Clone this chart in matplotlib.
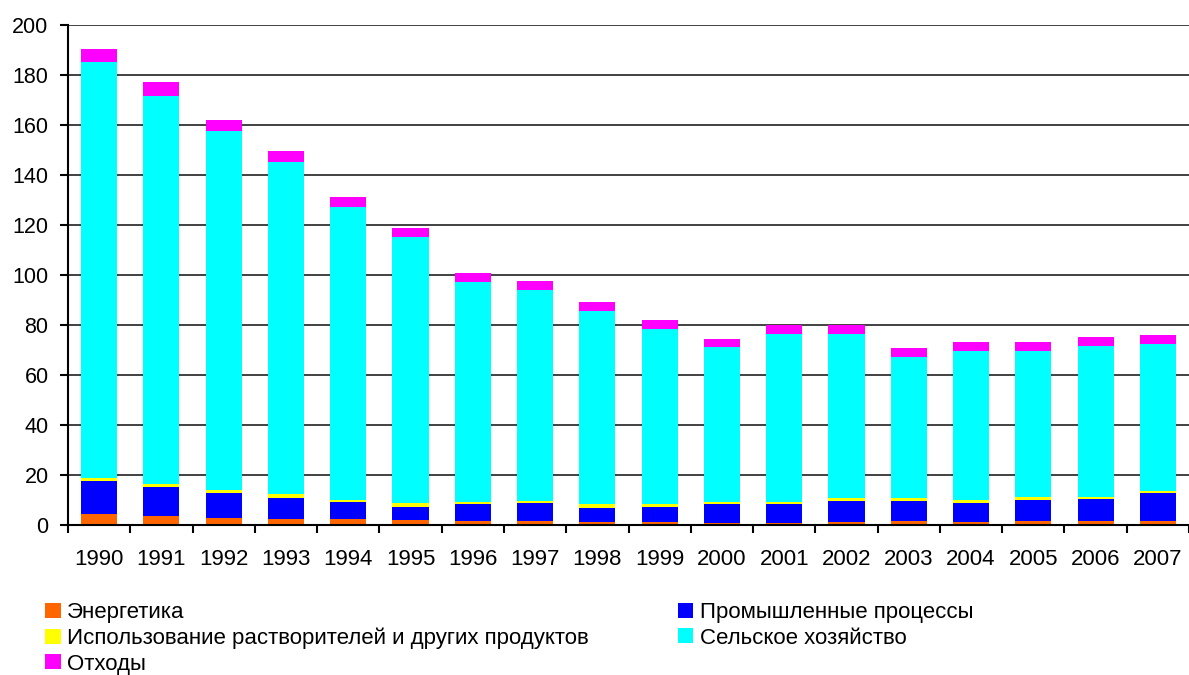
import matplotlib
matplotlib.use("Agg")
import matplotlib.pyplot as plt
import numpy as np

plt.rcParams["font.family"] = ["Liberation Sans", "DejaVu Sans"]

years = [str(y) for y in range(1990, 2008)]

energy = [4.4, 3.6, 2.8, 2.4, 2.4, 2.0, 1.6, 1.6, 1.2, 1.3, 0.9, 0.9, 1.3, 1.6, 1.3, 1.6, 1.6, 1.6]
industry = [13.2, 11.6, 10.0, 8.4, 6.8, 5.2, 6.8, 7.2, 5.6, 5.9, 7.5, 7.5, 8.3, 8.0, 7.5, 8.4, 8.8, 11.2]
solvents = [1.3, 1.3, 1.3, 1.6, 0.8, 1.6, 0.8, 0.8, 1.7, 1.3, 0.9, 0.9, 1.2, 1.2, 1.2, 1.2, 0.8, 0.8]
agriculture = [166.4, 155.1, 143.5, 132.6, 117.1, 106.5, 88.1, 84.5, 77.2, 70.0,
               62.0, 67.2, 65.7, 56.5, 59.7, 58.5, 60.5, 58.9]
waste = [5.2, 5.4, 4.4, 4.4, 3.9, 3.6, 3.6, 3.6, 3.6, 3.6, 3.2, 3.6, 3.6, 3.6, 3.6, 3.6, 3.6, 3.6]

series = [
    ("Энергетика", energy, "#FF6600"),
    ("Промышленные процессы", industry, "#0000FF"),
    ("Использование растворителей и других продуктов", solvents, "#FFFF00"),
    ("Сельское хозяйство", agriculture, "#00FFFF"),
    ("Отходы", waste, "#FF00FF"),
]

fig = plt.figure(figsize=(11.89, 6.75), dpi=100)
ax = fig.add_axes([0.0572, 0.2222, 0.9428, 0.7408])

x = np.arange(len(years))
bottom = np.zeros(len(years))
bars = {}
for name, vals, color in series:
    bars[name] = ax.bar(x, vals, 0.58, bottom=bottom, color=color, label=name, zorder=3)
    bottom += np.array(vals)

ax.set_ylim(0, 200)
ax.set_yticks(range(0, 201, 20))
ax.set_xlim(-0.5, len(years) - 0.5)
ax.set_xticks(x)
ax.set_xticklabels(years)
ax.set_xticks(np.arange(-0.5, len(years), 1), minor=True)
ax.tick_params(axis="x", which="major", length=0, pad=17, labelsize=16)
ax.tick_params(axis="x", which="minor", length=6, width=1.5, direction="out")
ax.tick_params(axis="y", length=6, width=1.5, pad=8, labelsize=15.5)
ax.grid(axis="y", color="#333333", linewidth=1.3, zorder=0)
for s in ["top", "right"]:
    ax.spines[s].set_visible(False)
for s in ["left", "bottom"]:
    ax.spines[s].set_linewidth(1.5)
    ax.spines[s].set_zorder(4)

# порядок такой, чтобы в два столбца легенда легла как в оригинале
order = ["Энергетика", "Использование растворителей и других продуктов", "Отходы",
         "Промышленные процессы", "Сельское хозяйство"]
fig.legend([bars[n] for n in order], order, ncol=2, loc="upper left",
           bbox_to_anchor=(0.0304, 0.121), frameon=False, fontsize=16,
           handlelength=0.7, handleheight=0.65, handletextpad=0.3,
           labelspacing=0.2, columnspacing=4.0, borderaxespad=0)

fig.savefig("out.png", dpi=100)
